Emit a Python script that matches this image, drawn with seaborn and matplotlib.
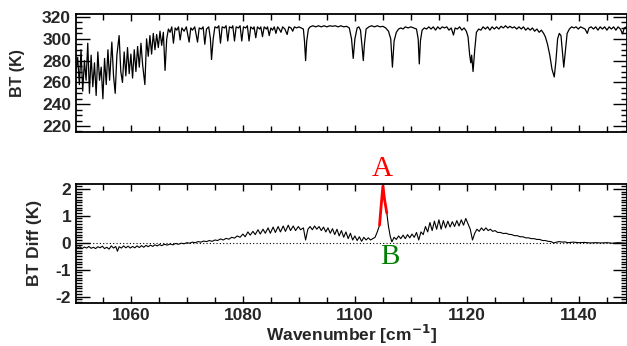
import numpy as np
import pandas as pd
import matplotlib
matplotlib.use("Agg")
import matplotlib.pyplot as plt
import seaborn as sns
from matplotlib.ticker import MultipleLocator

# ---------------- data ----------------
wn_top = [1050.2, 1050.5, 1050.8, 1051.1, 1051.4, 1051.7, 1052.0, 1052.3, 1052.6, 1052.9,
          1053.2, 1053.5, 1053.8, 1054.1, 1054.4, 1054.7, 1055.0, 1055.3, 1055.6, 1055.9,
          1056.2, 1056.6, 1056.9, 1057.2, 1057.5, 1057.9, 1058.2, 1058.5, 1058.8, 1059.1,
          1059.4, 1059.7, 1060.0, 1060.3, 1060.6, 1060.9, 1061.2, 1061.5, 1061.8, 1062.1,
          1062.5, 1062.8, 1063.1, 1063.4, 1063.7, 1064.0, 1064.3, 1064.6, 1064.9, 1065.2,
          1065.5, 1065.8, 1066.1, 1066.4, 1066.7, 1067.0, 1067.3, 1067.6, 1067.9, 1068.2,
          1068.5, 1068.8, 1069.1, 1069.5, 1069.9, 1070.4, 1070.7, 1071.0, 1071.4, 1071.9,
          1072.2, 1072.6, 1072.9, 1073.2, 1073.5, 1073.9, 1074.2, 1074.4, 1074.7, 1075.0,
          1075.4, 1075.7, 1076.0, 1076.3, 1076.7, 1077.0, 1077.3, 1077.6, 1078.0, 1078.2,
          1078.5, 1078.8, 1079.2, 1079.5, 1079.8, 1080.1, 1080.5, 1080.8, 1081.1, 1081.4,
          1081.8, 1082.0, 1082.3, 1082.6, 1083.0, 1083.2, 1083.5, 1083.8, 1084.2, 1084.4,
          1084.7, 1085.0, 1085.3, 1085.6, 1085.9, 1086.2, 1086.5, 1086.8, 1087.1, 1087.5,
          1087.9, 1088.2, 1088.6, 1088.9, 1089.2, 1089.6, 1090.0, 1090.4, 1090.8, 1091.0,
          1091.2, 1091.4, 1091.7, 1092.0, 1092.5, 1093.0, 1093.5, 1094.0, 1094.5, 1095.0,
          1095.5, 1096.0, 1096.5, 1097.0, 1097.5, 1098.0, 1098.5, 1099.0, 1099.4, 1099.7,
          1100.0, 1100.4, 1100.7, 1101.0, 1101.3, 1101.5, 1101.7, 1102.0, 1102.5, 1103.0,
          1103.5, 1104.0, 1104.5, 1105.0, 1105.5, 1106.0, 1106.4, 1106.7, 1107.0, 1107.4,
          1107.8, 1108.2, 1108.6, 1109.0, 1109.5, 1110.0, 1110.5, 1111.0, 1111.3, 1111.5,
          1111.7, 1112.0, 1112.4, 1112.8, 1113.2, 1113.6, 1114.0, 1114.4, 1114.8, 1115.2,
          1115.6, 1116.0, 1116.4, 1116.8, 1117.2, 1117.6, 1117.9, 1118.3, 1118.7, 1119.1,
          1119.5, 1119.9, 1120.2, 1120.5, 1120.7, 1120.85, 1121.1, 1121.4, 1121.7, 1122.1,
          1122.5, 1122.9, 1123.3, 1123.7, 1124.1, 1124.5, 1124.9, 1125.3, 1125.7, 1126.1,
          1126.5, 1126.9, 1127.3, 1127.7, 1128.1, 1128.5, 1128.9, 1129.3, 1129.7, 1130.1,
          1130.5, 1130.9, 1131.3, 1131.7, 1132.1, 1132.5, 1132.9, 1133.3, 1133.7, 1134.0,
          1134.4, 1134.8, 1135.2, 1135.6, 1135.9, 1136.2, 1136.5, 1136.8, 1137.1, 1137.3,
          1137.6, 1137.9, 1138.3, 1138.7, 1139.1, 1139.5, 1139.9, 1140.3, 1140.7, 1141.1,
          1141.5, 1141.8, 1142.2, 1142.6, 1143.0, 1143.4, 1143.8, 1144.2, 1144.6, 1145.0,
          1145.4, 1145.8, 1146.2, 1146.6, 1147.0, 1147.4, 1147.8, 1148.1, 1148.5]

bt_top = [270, 283, 258, 290, 252, 280, 262, 296, 250, 285,
          256, 278, 248, 288, 262, 274, 245, 282, 258, 290,
          262, 297, 266, 250, 285, 303, 270, 260, 288, 266,
          292, 268, 286, 264, 290, 270, 293, 274, 296, 276,
          258, 300, 284, 303, 286, 305, 290, 304, 292, 307,
          294, 306, 271, 300, 309, 306, 311, 296, 310, 308,
          311, 299, 310, 307, 311, 297, 310, 308, 311, 297,
          310, 309, 311, 295, 309, 311, 300, 281, 300, 311,
          310, 312, 296, 311, 310, 312, 298, 311, 310, 312,
          298, 311, 310, 312, 298, 311, 310, 312, 298, 311,
          309, 311, 301, 311, 309, 311, 302, 311, 309, 311,
          303, 310, 308, 311, 305, 311, 309, 306, 311, 309,
          304, 311, 310, 307, 311, 310, 311, 310, 309, 298,
          280, 298, 309, 311, 312, 311, 312, 311, 312, 311,
          312, 311.5, 312, 311, 312, 311, 311.5, 310, 300, 282,
          300, 310, 311, 308, 292, 280, 295, 309, 311, 312,
          311, 312, 311, 311.5, 310, 307, 300, 274, 298, 306,
          309, 310, 309, 311, 310, 311, 310, 309, 300, 277,
          298, 308, 310, 309, 311, 309, 311, 308, 311, 309,
          311, 310, 311, 308, 310, 303.5, 310, 309, 311, 308,
          310, 307, 302, 285, 278, 285, 270, 290, 306, 309,
          308, 311, 309, 311, 308, 311, 309, 311, 309, 311.5,
          310, 312, 310, 311.5, 310, 311, 309, 311, 309, 311,
          308, 310, 308, 310, 307, 309, 306, 308, 305, 302,
          295, 285, 272, 265, 280, 300, 305, 303, 285, 274,
          290, 305, 309, 311, 310, 311, 309, 311, 310, 309,
          305, 310, 311, 309, 311, 308, 311, 309, 311, 308,
          311, 309, 311, 308, 311, 309, 304.6, 310, 311]

wn_diff = [1050.2, 1050.5, 1050.9, 1051.3, 1051.7, 1052.1, 1052.5, 1052.9, 1053.3, 1053.7,
           1054.1, 1054.5, 1054.9, 1055.3, 1055.7, 1056.1, 1056.5, 1056.9, 1057.3, 1057.6,
           1057.9, 1058.3, 1058.7, 1059.1, 1059.5, 1059.9, 1060.3, 1060.7, 1061.1, 1061.5,
           1061.9, 1062.3, 1062.7, 1063.1, 1063.5, 1063.9, 1064.3, 1064.7, 1065.1, 1065.5,
           1066.0, 1066.5, 1067.0, 1067.5, 1068.0, 1068.5, 1069.0, 1069.5, 1070.0, 1070.5,
           1071.0, 1071.5, 1072.0, 1072.5, 1073.0, 1073.5, 1074.0, 1074.5, 1075.0, 1075.5,
           1076.0, 1076.5, 1077.0, 1077.5, 1078.0, 1078.5, 1079.0, 1079.5, 1080.0, 1080.4,
           1080.9, 1081.3, 1081.8, 1082.2, 1082.7, 1083.1, 1083.6, 1084.0, 1084.5, 1084.9,
           1085.4, 1085.8, 1086.3, 1086.7, 1087.2, 1087.6, 1088.1, 1088.5, 1089.0, 1089.4,
           1089.9, 1090.3, 1090.8, 1091.2, 1091.6, 1092.0, 1092.4, 1092.8, 1093.2, 1093.6,
           1094.0, 1094.4, 1094.8, 1095.2, 1095.6, 1096.0, 1096.4, 1096.8, 1097.2, 1097.6,
           1098.0, 1098.4, 1098.8, 1099.2, 1099.6, 1100.0, 1100.4, 1100.8, 1101.2, 1101.6,
           1102.0, 1102.4, 1102.8, 1103.2, 1103.6, 1104.0, 1104.4, 1104.7, 1105.0, 1105.3,
           1105.7, 1106.0, 1106.3, 1106.6, 1107.0, 1107.4, 1107.8, 1108.2, 1108.6, 1109.0,
           1109.4, 1109.8, 1110.2, 1110.6, 1111.0, 1111.4, 1111.8, 1112.2, 1112.6, 1113.0,
           1113.4, 1113.8, 1114.2, 1114.6, 1115.0, 1115.4, 1115.8, 1116.2, 1116.6, 1117.0,
           1117.4, 1117.8, 1118.2, 1118.6, 1119.0, 1119.4, 1119.8, 1120.2, 1120.6, 1121.0,
           1121.4, 1121.8, 1122.2, 1122.6, 1123.0, 1123.4, 1123.8, 1124.2, 1124.6, 1125.0,
           1125.5, 1126.0, 1126.5, 1127.0, 1127.5, 1128.0, 1128.5, 1129.0, 1129.5, 1130.0,
           1130.5, 1131.0, 1131.5, 1132.0, 1132.5, 1133.0, 1133.5, 1134.0, 1134.5, 1135.0,
           1135.5, 1136.0, 1136.5, 1137.0, 1137.5, 1138.0, 1139.0, 1140.0, 1141.0, 1142.0,
           1143.0, 1144.0, 1145.0, 1146.0, 1147.0, 1148.5]

bt_diff = [-0.12, -0.20, -0.15, -0.22, -0.16, -0.20, -0.14, -0.21, -0.17, -0.22,
           -0.15, -0.19, -0.13, -0.22, -0.17, -0.24, -0.12, -0.20, -0.14, -0.32,
           -0.15, -0.20, -0.12, -0.19, -0.13, -0.20, -0.14, -0.19, -0.12, -0.18,
           -0.11, -0.17, -0.10, -0.15, -0.09, -0.14, -0.08, -0.12, -0.07, -0.11,
           -0.06, -0.09, -0.05, -0.08, -0.03, -0.06, -0.02, -0.04, 0.00, -0.02,
           0.02, 0.00, 0.04, 0.02, 0.06, 0.04, 0.08, 0.05, 0.10, 0.08,
           0.14, 0.10, 0.16, 0.13, 0.20, 0.17, 0.25, 0.20, 0.32, 0.22,
           0.40, 0.28, 0.42, 0.30, 0.48, 0.32, 0.50, 0.35, 0.55, 0.35,
           0.58, 0.38, 0.60, 0.40, 0.62, 0.42, 0.65, 0.45, 0.62, 0.45,
           0.60, 0.48, 0.55, 0.10, 0.50, 0.60, 0.48, 0.62, 0.50, 0.60,
           0.45, 0.58, 0.40, 0.55, 0.35, 0.52, 0.30, 0.50, 0.25, 0.45,
           0.20, 0.40, 0.15, 0.35, 0.10, 0.25, 0.08, 0.22, 0.05, 0.20,
           0.10, 0.18, 0.10, 0.15, 0.20, 0.40, 0.65, 1.40, 2.10, 1.60,
           1.10, 0.60, 0.25, 0.03, 0.20, 0.12, 0.25, 0.15, 0.28, 0.15,
           0.30, 0.18, 0.32, 0.20, 0.38, 0.10, 0.40, 0.30, 0.60, 0.40,
           0.75, 0.45, 0.80, 0.50, 0.85, 0.50, 0.82, 0.55, 0.80, 0.58,
           0.78, 0.60, 0.82, 0.62, 0.85, 0.65, 0.90, 0.70, 0.50, 0.10,
           0.35, 0.50, 0.42, 0.55, 0.45, 0.55, 0.45, 0.50, 0.42, 0.45,
           0.38, 0.38, 0.34, 0.35, 0.31, 0.30, 0.26, 0.26, 0.22, 0.22,
           0.18, 0.18, 0.15, 0.15, 0.12, 0.12, 0.08, 0.08, 0.05, 0.04,
           -0.01, 0.02, 0.04, 0.02, 0.03, 0.00, 0.02, 0.00, 0.01, -0.01,
           0.00, -0.01, 0.00, -0.02, 0.00, -0.02]

peak_range = [1104.4, 1105.7]      # part of the difference drawn in red
x_major = [1060, 1080, 1100, 1120, 1140]
top_yticks = [220, 240, 260, 280, 300, 320]
diff_yticks = [-2, -1, 0, 1, 2]

# ---------------- style ----------------
sns.set_style("ticks")
plt.rcParams["font.family"] = ["Liberation Sans", "DejaVu Sans"]

fig = plt.figure(figsize=(6.27, 3.46), dpi=100)
L, W = 76 / 627, 550.5 / 627
ax1 = fig.add_axes([L, 1 - 132 / 346, W, 118 / 346])
ax2 = fig.add_axes([L, 1 - 302.7 / 346, W, 118.7 / 346])

df_top = pd.DataFrame({"wn": wn_top, "bt": bt_top})
df_diff = pd.DataFrame({"wn": wn_diff, "d": bt_diff})
df_red = df_diff[(df_diff.wn >= peak_range[0]) & (df_diff.wn <= peak_range[1])]

sns.lineplot(data=df_top, x="wn", y="bt", ax=ax1, color="black", lw=0.9,
             sort=False, estimator=None)
sns.lineplot(data=df_diff, x="wn", y="d", ax=ax2, color="black", lw=0.8,
             sort=False, estimator=None)
sns.lineplot(data=df_red, x="wn", y="d", ax=ax2, color="red", lw=2.0,
             sort=False, estimator=None)
ax2.axhline(0, color="black", lw=0.8, ls=(0, (1, 2)))

xlim = (1050.2, 1148.5)
for ax in (ax1, ax2):
    ax.set_xlim(*xlim)
    ax.set_xticks(x_major)
    ax.xaxis.set_minor_locator(MultipleLocator(5))
    ax.tick_params(axis="both", which="both", direction="in", top=True, right=True,
                   width=1.0, color="black", labelsize=12.5)
    ax.tick_params(axis="x", which="major", length=5)
    ax.tick_params(axis="x", which="minor", length=4)
    ax.tick_params(axis="y", which="major", length=10)
    ax.tick_params(axis="y", which="minor", length=4)
    for s in ax.spines.values():
        s.set_linewidth(1.3)
        s.set_color("black")

ax1.set_ylim(214.5, 322.8)
ax1.set_yticks(top_yticks)
ax1.yaxis.set_minor_locator(MultipleLocator(5))
ax1.set_xticklabels([])
ax1.set_xlabel("")
ax1.tick_params(axis="y", labelsize=12.5)
ax1.set_ylabel("BT (K)", fontsize=11.5, fontweight="bold")
ax1.yaxis.set_label_coords(-0.0926, 0.5)

ax2.set_ylim(-2.23, 2.18)
ax2.set_yticks(diff_yticks)
ax2.set_yticklabels([str(v) for v in diff_yticks])
ax2.yaxis.set_minor_locator(MultipleLocator(0.1))
ax2.set_ylabel("BT Diff (K)", fontsize=12.5, fontweight="bold")
ax2.yaxis.set_label_coords(-0.0618, 0.5)
ax2.set_xlabel("Wavenumber [cm$^{\\mathbf{-1}}$]", fontsize=12.5, fontweight="bold",
               labelpad=0)

for ax in (ax1, ax2):
    for lab in ax.get_xticklabels() + ax.get_yticklabels():
        lab.set_fontweight("bold")

ax2.text(1104.9, 2.74, "A", color="red", fontsize=21, family="Liberation Serif",
         fontweight="normal", ha="center", va="center", clip_on=False)
ax2.text(1106.3, -0.55, "B", color="green", fontsize=21, family="Liberation Serif",
         fontweight="normal", ha="center", va="center", clip_on=False)

fig.savefig("out.png", dpi=100)
